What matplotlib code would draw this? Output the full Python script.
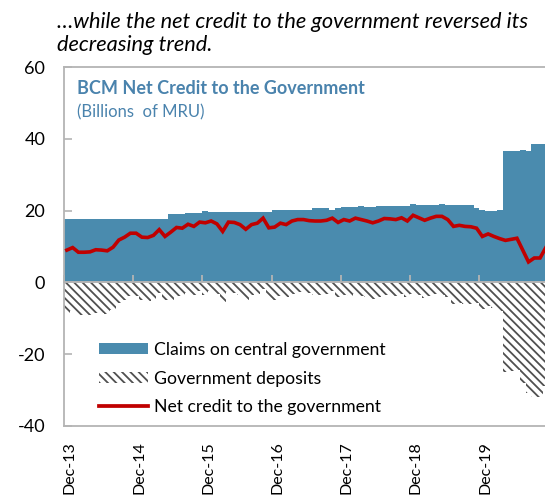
import matplotlib
matplotlib.use("Agg")
import matplotlib.pyplot as plt
from matplotlib.patches import Patch
from matplotlib.lines import Line2D
import numpy as np

plt.rcParams['font.family'] = ['Lato', 'DejaVu Sans']
plt.rcParams['axes.unicode_minus'] = False
plt.rcParams['hatch.linewidth'] = 1.3
plt.rcParams['hatch.color'] = '#505050'

# ---- data (monthly, Dec-13 .. Nov-20) ----
claims = ([17.6] * 18 + [19.0] * 3 + [19.2] * 3 + [20.0] + [19.6] * 11 +
          [20.2] * 7 + [20.6] * 3 + [20.3] + [20.8] + [21.0] * 3 + [21.4] +
          [21.1] * 2 + [21.3] * 6 + [21.9] + [21.6] * 4 + [21.9] + [21.6] * 5 +
          [20.8] + [20.2] + [20.0] * 2 + [20.2] + [36.6] * 3 + [37.0] + [36.6] +
          [38.6] * 3)

deposits = [-8.6, -7.9, -9.2, -9.2, -9.1, -8.5, -8.6, -8.8, -7.8, -5.8,
            -5.0, -3.9, -3.9, -5.0, -5.1, -4.5, -2.9, -4.8, -5.0, -3.7,
            -3.9, -3.0, -3.6, -2.4, -3.4, -2.5, -3.3, -5.4, -2.8, -2.9,
            -3.5, -4.8, -3.5, -3.1, -1.7, -4.4, -4.8, -3.7, -4.1, -3.1,
            -2.7, -2.7, -3.0, -3.5, -3.5, -3.3, -2.4, -4.1, -3.5, -3.9,
            -3.1, -3.9, -4.0, -4.5, -4.2, -3.5, -3.6, -3.8, -3.3, -4.2,
            -3.2, -3.6, -4.3, -3.7, -3.2, -3.5, -4.1, -6.0, -5.7, -6.0,
            -6.1, -5.7, -7.4, -6.5, -7.2, -8.0, -24.9, -24.6, -24.3, -28.0,
            -30.9, -31.8, -31.8, -28.9]

net_credit = [9.0, 9.7, 8.4, 8.4, 8.5, 9.1, 9.0, 8.8, 9.8, 11.8,
              12.6, 13.7, 13.7, 12.6, 12.5, 13.1, 14.7, 12.8, 14.0, 15.3,
              15.1, 16.2, 15.6, 16.8, 16.6, 17.1, 16.3, 14.2, 16.8, 16.7,
              16.1, 14.8, 16.1, 16.5, 17.9, 15.2, 15.4, 16.5, 16.1, 17.1,
              17.5, 17.5, 17.2, 17.1, 17.1, 17.3, 17.9, 16.7, 17.5, 17.1,
              17.9, 17.5, 17.1, 16.6, 17.1, 17.8, 17.7, 17.5, 18.0, 17.1,
              18.7, 18.0, 17.3, 17.9, 18.4, 18.4, 17.5, 15.6, 15.9, 15.6,
              15.5, 15.1, 12.8, 13.5, 12.8, 12.2, 11.7, 12.0, 12.3, 9.0,
              5.7, 6.8, 6.8, 9.7]

tick_labels = ['Dec-13', 'Dec-14', 'Dec-15', 'Dec-16', 'Dec-17', 'Dec-18', 'Dec-19']
y_ticks = [-40, -20, 0, 20, 40, 60]

series_names = ['Claims on central government', 'Government deposits',
                'Net credit to the government']

BLUE = '#4A8BAE'
RED = '#C00000'
GRAY = '#B4B4B4'

W, H = 545, 495
fig = plt.figure(figsize=(W / 100, H / 100), dpi=100)
ax = fig.add_axes([64 / W, 1 - 426 / H, (548.7 - 64) / W, (426 - 67) / H])

n = len(claims)
x = np.arange(n)
ax.bar(x, claims, width=1.0, align='edge', color=BLUE, linewidth=0, zorder=2)
ax.bar(x, deposits, width=1.0, align='edge', facecolor='white',
       edgecolor='#505050', hatch='\\\\\\\\', linewidth=0, zorder=2)
ax.plot(x + 0.5, net_credit, color=RED, linewidth=2.6, zorder=4,
        solid_joinstyle='miter')

ax.set_xlim(0, n)
ax.set_ylim(-40, 60)
ax.set_yticks(y_ticks)
ax.set_yticklabels([str(v) for v in y_ticks], fontsize=13)
ax.tick_params(axis='y', direction='in', length=6, width=1.2, color=GRAY, pad=13.5)

ax.set_xticks([12 * k + 1 for k in range(len(tick_labels))])
ax.set_xticklabels(tick_labels, rotation=90, fontsize=11.5)
ax.tick_params(axis='x', length=0, pad=11)

for s in ['left', 'top', 'bottom']:
    ax.spines[s].set_color(GRAY)
    ax.spines[s].set_linewidth(1.3)
ax.spines['right'].set_visible(False)

# zero line with tick marks
sec = ax.secondary_xaxis(0.4)
sec.set_xticks([12 * k for k in range(len(tick_labels) + 1)])
sec.set_xticklabels([])
sec.tick_params(axis='x', direction='in', length=5, width=1.3, color=GRAY)
sec.spines['bottom'].set_color(GRAY)
sec.spines['bottom'].set_linewidth(1.4)
sec.set_zorder(3)

# titles
fig.text(57 / W, 1 - 22 / H, '\u2026while the net credit to the government reversed its',
         fontsize=15.7, style='italic', va='center', ha='left', color='black')
fig.text(57 / W, 1 - 45 / H, 'decreasing trend.',
         fontsize=15.7, style='italic', va='center', ha='left', color='black')
fig.text(77 / W, 1 - 88 / H, 'BCM Net Credit to the Government', fontsize=13,
         fontweight='bold', color='#4A83AD', va='center', ha='left')
fig.text(77 / W, 1 - 112 / H, '(Billions  of MRU)', fontsize=12,
         color='#4A83AD', va='center', ha='left')

handles = [Patch(facecolor=BLUE, linewidth=0),
           Patch(facecolor='white', edgecolor='#505050', hatch='\\\\\\\\', linewidth=0),
           Line2D([0], [0], color=RED, linewidth=2.7)]
leg = ax.legend(handles, series_names, loc='upper left',
                bbox_to_anchor=(99 / W, 1 - 342 / H), bbox_transform=fig.transFigure,
                frameon=False, fontsize=12.7, handlelength=2.8, handleheight=0.6,
                handletextpad=0.3, labelspacing=0.72, borderpad=0, borderaxespad=0)

fig.savefig('out.png', dpi=100)
